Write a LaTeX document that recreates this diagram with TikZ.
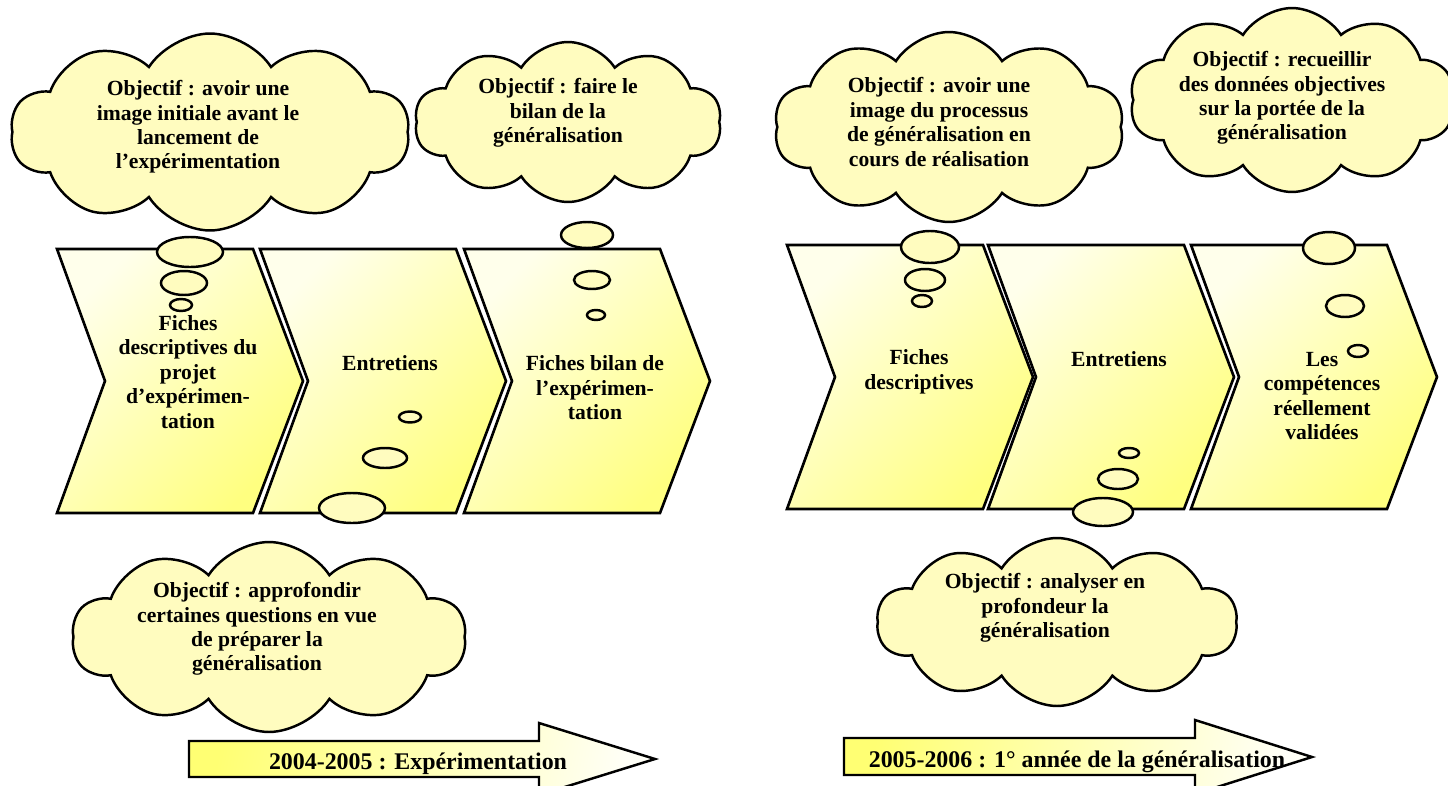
\documentclass[tikz,border=0pt]{standalone}
\usepackage{fontspec}
\setmainfont{Liberation Serif}
\usepackage{tikz}
\usetikzlibrary{shapes.symbols}

\begin{document}
\begin{tikzpicture}[x=0.02cm, y=-0.02cm,
	chev/.style={draw, line width=1.5pt, top color=yellow!8, bottom color=yellow!50, shading angle=45},
	bubble/.style={draw, line width=1.4pt, fill=yellow!25},
	idea/.style={cloud, cloud puffs=10, cloud puff arc=115, cloud ignores aspect, draw, line width=1.4pt, fill=yellow!25, inner sep=0pt},
	txt/.style={font=\fontsize{12.3}{13.9}\selectfont\bfseries, align=center},
	yeartxt/.style={font=\fontsize{13.6}{15}\selectfont\bfseries, anchor=base},
	yeararrow/.style={draw, line width=1.4pt, top color=yellow!55, bottom color=yellow!3, shading angle=80}]

\useasboundingbox (0,0) rectangle (1448,785);

% chevrons 2004-2005
\def \c {249}
\foreach \b in {57,260,464}{
	\draw[chev] (\b,\c)--(\b+196,\c)--(\b+246,\c+132)--(\b+196,\c+264)--(\b,\c+264)--(\b+48,\c+132)--cycle;
}

% chevrons 2005-2006
\def \c {245}
\foreach \b in {787,988,1191}{
	\draw[chev] (\b,\c)--(\b+196,\c)--(\b+246,\c+132)--(\b+196,\c+264)--(\b,\c+264)--(\b+48,\c+132)--cycle;
}

\node[txt] (fiches) at (188,372) {Fiches\\descriptives du\\projet\\d’expérimen-\\tation};
\node[txt] (entretiens) at (390,363) {Entretiens};
\node[txt] (bilan) at (595,388) {Fiches bilan de\\l’expérimen-\\tation};

\node[txt] (fichesB) at (919,372) {Fiches\\descriptives};
\node[txt] (entretiensB) at (1119,359) {Entretiens};
\node[txt] (competences) at (1322,396) {Les\\compétences\\réellement\\validées};

% bubbles
\draw[bubble] (190,252) ellipse [x radius=33, y radius=15];
\draw[bubble] (184,283) ellipse [x radius=23, y radius=12];
\draw[bubble] (181,305) ellipse [x radius=11, y radius=6];

\draw[bubble] (587,235) ellipse [x radius=26, y radius=13];
\draw[bubble] (592,280) ellipse [x radius=18, y radius=9];
\draw[bubble] (596,315) ellipse [x radius=9, y radius=5];

\draw[bubble] (410,417) ellipse [x radius=11, y radius=5.5];
\draw[bubble] (385,458) ellipse [x radius=22, y radius=10];
\draw[bubble] (352,508) ellipse [x radius=33, y radius=15];

\draw[bubble] (930,247) ellipse [x radius=29, y radius=16];
\draw[bubble] (925,280) ellipse [x radius=20, y radius=11];
\draw[bubble] (922,301) ellipse [x radius=10, y radius=6];

\draw[bubble] (1329,248) ellipse [x radius=26, y radius=16];
\draw[bubble] (1345,306) ellipse [x radius=19, y radius=11];
\draw[bubble] (1358,351) ellipse [x radius=10, y radius=6];

\draw[bubble] (1129,453) ellipse [x radius=10, y radius=5];
\draw[bubble] (1118,479) ellipse [x radius=20, y radius=10];
\draw[bubble] (1103,512) ellipse [x radius=30, y radius=14];

% clouds
\node[idea, minimum width=7.98cm, minimum height=3.94cm] (idea1) at (210,132) {};
\node[idea, minimum width=6.14cm, minimum height=3.2cm] (idea2) at (568,122) {};
\node[idea, minimum width=7.88cm, minimum height=3.8cm] (idea3) at (269,637) {};
\node[idea, minimum width=7.0cm, minimum height=3.8cm] (idea4) at (949,127) {};
\node[idea, minimum width=6.5cm, minimum height=3.68cm] (idea5) at (1292,100) {};
\node[idea, minimum width=7.2cm, minimum height=3.36cm] (idea6) at (1057,622) {};

\node[txt] (idea1txt) at (198,127) {Objectif : avoir une\\image initiale avant le\\lancement de\\l’expérimentation};
\node[txt] (idea2txt) at (558,113) {Objectif : faire le\\bilan de la\\généralisation};
\node[txt] (idea3txt) at (257,629) {Objectif : approfondir\\certaines questions en vue\\de préparer la\\généralisation};
\node[txt] (idea4txt) at (939,122) {Objectif : avoir une\\image du processus\\de généralisation en\\cours de réalisation};
\node[txt] (idea5txt) at (1282,98) {Objectif : recueillir\\des données objectives\\sur la portée de la\\généralisation};
\node[txt] (idea6txt) at (1045,608) {Objectif : analyser en\\profondeur la\\généralisation};

% year arrows
\def \b {189}
\def \c {741}
\draw[yeararrow] (\b,\c)--(\b+350,\c)--(\b+350,\c-18)--(\b+466,\c+18)--(\b+350,\c+54)--(\b+350,\c+36)--(\b,\c+36)--cycle;
\begin{scope}
	\clip (\b,\c)--(\b+350,\c)--(\b+350,\c-18)--(\b+466,\c+18)--(\b+350,\c+54)--(\b+350,\c+36)--(\b,\c+36)--cycle;
	\node[yeartxt] (year1) at (418,769) {2004-2005 : Expérimentation};
\end{scope}

\def \b {844}
\def \c {738}
\draw[yeararrow] (\b,\c)--(\b+351,\c)--(\b+351,\c-18)--(\b+468,\c+19)--(\b+351,\c+56)--(\b+351,\c+37)--(\b,\c+37)--cycle;
\begin{scope}
	\clip (\b,\c)--(\b+351,\c)--(\b+351,\c-18)--(\b+468,\c+19)--(\b+351,\c+56)--(\b+351,\c+37)--(\b,\c+37)--cycle;
	\node[yeartxt] (year2) at (1077,767) {2005-2006 : 1° année de la généralisation};
\end{scope}

\end{tikzpicture}
\end{document}
